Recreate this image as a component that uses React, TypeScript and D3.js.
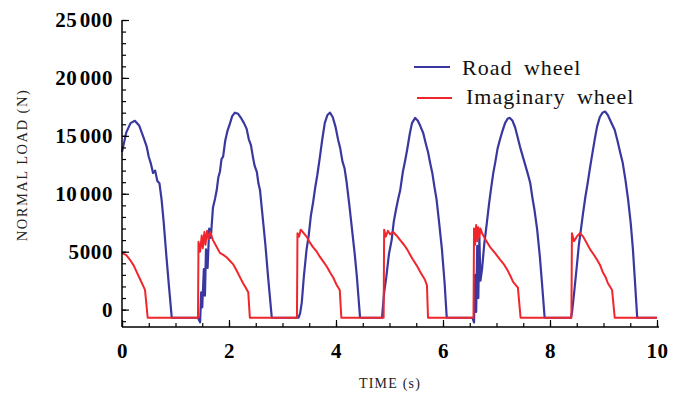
import { useEffect, useRef } from 'react';
import * as d3 from 'd3';

// road wheel normal load
const roadTime = [
  0, 0.08, 0.16, 0.24, 0.32, 0.4, 0.46, 0.5, 0.54, 0.58, 0.62, 0.66, 0.7, 0.74, 0.78, 0.83, 0.88, 0.93,
  1.42, 1.46, 1.48, 1.5, 1.53, 1.55, 1.57, 1.6, 1.63, 1.66, 1.7, 1.74, 1.77, 1.8, 1.83, 1.86, 1.89, 1.93,
  1.97, 2.02, 2.06, 2.11, 2.17, 2.23, 2.28, 2.33, 2.37, 2.41, 2.45, 2.48, 2.52, 2.55, 2.58, 2.61, 2.64,
  2.68, 2.73, 2.8,
  3.3, 3.33, 3.36, 3.4, 3.45, 3.49, 3.53, 3.57, 3.61, 3.65, 3.7, 3.74, 3.79, 3.84, 3.89, 3.94, 3.99, 4.04,
  4.08, 4.12, 4.16, 4.2, 4.25, 4.3, 4.35, 4.39, 4.45,
  4.86, 4.9, 4.94, 4.99, 5.04, 5.08, 5.12, 5.16, 5.2, 5.25, 5.29, 5.33, 5.38, 5.42, 5.48, 5.53, 5.58, 5.63,
  5.68, 5.72, 5.76, 5.8, 5.84, 5.88, 5.93, 5.98, 6.03, 6.07,
  6.55, 6.58, 6.6, 6.62, 6.64, 6.66, 6.68, 6.7, 6.73, 6.77, 6.82, 6.86, 6.9, 6.94, 6.98, 7.02, 7.06, 7.1,
  7.16, 7.21, 7.25, 7.3, 7.35, 7.4, 7.44, 7.48, 7.53, 7.58, 7.63, 7.67, 7.71, 7.76, 7.81, 7.85, 7.9,
  8.39, 8.41, 8.45, 8.5, 8.54, 8.58, 8.62, 8.66, 8.7, 8.75, 8.8, 8.84, 8.88, 8.93, 8.98, 9.03, 9.08, 9.14,
  9.21, 9.26, 9.31, 9.36, 9.41, 9.46, 9.51, 9.55, 9.59, 9.63, 10,
];
const roadLoad = [
  13600, 15300, 16100, 16300, 15900, 14900, 14100, 13200, 12600, 11800, 12000, 11100, 10900, 9500, 7500, 4600, 1900, -700,
  -700, -1100, 1500, 200, 3500, 1200, 5200, 3600, 7000, 6200, 8800, 9600, 10300, 11400, 11900, 13000, 13200, 14600,
  15400, 16100, 16700, 17000, 16900, 16500, 16100, 15600, 14700, 14200, 13100, 12400, 11900, 10900, 10300, 8900, 7500,
  5600, 2850, -700,
  -700, -300, 600, 2900, 5200, 6400, 8100, 9200, 10500, 11600, 13200, 14600, 16100, 16800, 17000, 16600, 15800, 14650,
  13900, 12800, 12200, 10950, 9000, 6900, 4800, 2850, -700,
  -700, 1500, 2800, 4800, 6000, 7600, 8600, 9500, 10300, 11900, 12800, 13800, 15200, 16100, 16550, 16300, 15800, 15250,
  14300, 13600, 12650, 11800, 10600, 9500, 7400, 5200, 2300, -700,
  -700, -1100, 3000, -200, 5500, 1000, 6200, 2500, 3500, 5600, 7500, 9100, 10500, 11800, 12800, 13900, 14600, 15250,
  16100, 16500, 16550, 16300, 15700, 14800, 14050, 13400, 12600, 11800, 10950, 9700, 8600, 6900, 4600, 2300, -700,
  -700, -300, 1400, 3700, 5600, 7000, 8400, 9700, 10800, 12300, 13700, 14800, 15800, 16600, 17000, 17100, 16800, 16200,
  15500, 14600, 13600, 12650, 11200, 9500, 7400, 5200, 2300, -700, -700,
];

// imaginary wheel normal load
const imagTime = [
  0, 0.08, 0.15, 0.22, 0.28, 0.34, 0.4, 0.43, 0.48,
  1.42, 1.43, 1.46, 1.49, 1.51, 1.54, 1.56, 1.59, 1.62, 1.65, 1.7, 1.76, 1.83, 1.9, 1.96, 2.02, 2.08, 2.14,
  2.2, 2.26, 2.3, 2.36, 2.39,
  3.27, 3.28, 3.31, 3.34, 3.38, 3.45, 3.51, 3.57, 3.64, 3.7, 3.77, 3.83, 3.89, 3.95, 4.01, 4.07, 4.1,
  4.89, 4.9, 4.93, 4.97, 5.01, 5.07, 5.13, 5.2, 5.27, 5.33, 5.39, 5.44, 5.51, 5.57, 5.62, 5.66, 5.7, 5.72,
  6.57, 6.58, 6.6, 6.62, 6.64, 6.66, 6.68, 6.7, 6.73, 6.8, 6.88, 6.97, 7.07, 7.14, 7.2, 7.26, 7.31, 7.4, 7.45,
  8.4, 8.41, 8.45, 8.5, 8.56, 8.62, 8.68, 8.75, 8.81, 8.88, 8.94, 8.99, 9.04, 9.08, 9.16, 9.21, 10,
];
const imagLoad = [
  4900, 4700, 4300, 3800, 3200, 2600, 2000, 1700, -700,
  -700, 5850, 5000, 6400, 5300, 6700, 5600, 6800, 6100, 6700, 6000, 5500, 4900, 4700, 4500, 4200, 3900, 3400,
  2850, 2300, 2000, 1500, -700,
  -700, 6600, 6300, 6900, 6700, 6300, 5800, 5400, 5000, 4550, 4100, 3700, 3200, 2750, 2150, 1700, -700,
  -700, 6900, 6300, 6800, 6500, 6700, 6400, 6000, 5600, 5200, 4700, 4300, 3800, 3300, 2900, 2600, 2100, -700,
  -700, 7000, 5600, 7300, 5900, 7100, 6200, 7000, 6600, 6000, 5400, 4900, 4300, 3900, 3450, 2900, 2400, 1900, -700,
  -700, 6600, 5900, 6300, 6600, 6300, 5800, 5200, 4800, 4300, 3800, 3200, 2800, 2300, 1700, -700, -700,
];

const xTicks = [0, 2, 4, 6, 8, 10];
const yTicks = [0, 5000, 10000, 15000, 20000, 25000];
const legendLabels = ['Road wheel', 'Imaginary wheel'];

const BLUE = '#3838a0';
const RED = '#f0262c';
const SERIF = '"Liberation Serif", "Times New Roman", serif';

export default function App() {
  const ref = useRef<SVGSVGElement | null>(null);

  useEffect(() => {
    if (!ref.current) return;
    const width = 683;
    const height = 394;
    const svg = d3.select(ref.current);
    svg.selectAll('*').remove();
    svg.attr('width', width).attr('height', height);

    const x = d3.scaleLinear().domain([0, 10]).range([122, 657]);
    const y = d3.scaleLinear().domain([-1500, 25000]).range([327, 20]);

    // 25000 -> "25 000" with a hair space, 5000 stays as is
    const fmt = (d: number) => {
      const s = String(d);
      return d >= 10000 ? s.slice(0, s.length - 3) + '\u200A' + s.slice(-3) : s;
    };

    const line = d3
      .line<[number, number]>()
      .x(d => x(d[0]))
      .y(d => y(d[1]));

    const road = roadTime.map((t, i) => [t, roadLoad[i]] as [number, number]);
    const imag = imagTime.map((t, i) => [t, imagLoad[i]] as [number, number]);

    svg
      .append('path')
      .datum(road)
      .attr('fill', 'none')
      .attr('stroke', BLUE)
      .attr('stroke-width', 2.2)
      .attr('stroke-linejoin', 'round')
      .attr('d', line);

    svg
      .append('path')
      .datum(imag)
      .attr('fill', 'none')
      .attr('stroke', RED)
      .attr('stroke-width', 2)
      .attr('stroke-linejoin', 'round')
      .attr('d', line);

    // y axis: minor ticks, major ticks, labels
    const yMinor = d3.range(-1000, 25001, 1000);
    svg
      .append('g')
      .attr('transform', `translate(${x(0)},0)`)
      .call(d3.axisRight(y).tickValues(yMinor).tickSize(4).tickFormat(() => '').tickSizeOuter(0))
      .call(g => g.select('.domain').remove())
      .attr('stroke-width', 1.2);
    svg
      .append('g')
      .attr('transform', `translate(${x(0)},0)`)
      .call(d3.axisRight(y).tickValues(yTicks).tickSize(7).tickFormat(() => '').tickSizeOuter(0))
      .call(g => g.select('.domain').remove())
      .attr('stroke-width', 1.2);
    svg
      .append('g')
      .attr('transform', `translate(${x(0)},0)`)
      .call(d3.axisLeft(y).tickValues(yTicks).tickSize(0).tickSizeOuter(0).tickFormat(d => fmt(d as number)).tickPadding(9))
      .call(g => g.selectAll('.tick line').remove())
      .call(g => g.select('.domain').attr('stroke-width', 1.5).attr('d', `M0,${y(-1500)}V${y(25000)}`))
      .call(g =>
        g
          .selectAll('.tick text')
          .attr('font-family', SERIF)
          .attr('font-weight', 'bold')
          .attr('font-size', 21)
          .attr('letter-spacing', 0.6)
          .attr('fill', '#000')
      );

    // x axis
    const xMinor = d3.range(0, 10.01, 0.5);
    svg
      .append('g')
      .attr('transform', `translate(0,${y(-1500)})`)
      .call(d3.axisTop(x).tickValues(xMinor).tickSize(4).tickFormat(() => '').tickSizeOuter(0))
      .call(g => g.select('.domain').remove())
      .attr('stroke-width', 1.2);
    svg
      .append('g')
      .attr('transform', `translate(0,${y(-1500)})`)
      .call(d3.axisTop(x).tickValues(xTicks).tickSize(7).tickFormat(() => '').tickSizeOuter(0))
      .call(g => g.select('.domain').attr('stroke-width', 1.5).attr('d', `M${x(0)},0H${x(10) + 2}`))
      .attr('stroke-width', 1.2);
    svg
      .append('g')
      .attr('transform', `translate(0,${y(-1500)})`)
      .call(d3.axisBottom(x).tickValues(xTicks).tickSize(0).tickPadding(16).tickFormat(d => String(d)))
      .call(g => g.select('.domain').remove())
      .call(g =>
        g
          .selectAll('.tick text')
          .attr('font-family', SERIF)
          .attr('font-weight', 'bold')
          .attr('font-size', 21)
          .attr('letter-spacing', 0.6)
          .attr('fill', '#000')
      );

    // axis titles
    svg
      .append('text')
      .attr('x', 390)
      .attr('y', 388)
      .attr('text-anchor', 'middle')
      .attr('font-family', SERIF)
      .attr('font-size', 14)
      .attr('letter-spacing', 1.2)
      .attr('fill', '#222')
      .text('TIME (s)');
    svg
      .append('text')
      .attr('transform', 'translate(27,165) rotate(-90)')
      .attr('text-anchor', 'middle')
      .attr('font-family', SERIF)
      .attr('font-size', 14.5)
      .attr('letter-spacing', 1.5)
      .attr('fill', '#222')
      .text('NORMAL LOAD (N)');

    // legend
    const legend = [
      { label: legendLabels[0], color: BLUE, x1: 414, x2: 450, ly: 67, tx: 462, ty: 75 },
      { label: legendLabels[1], color: RED, x1: 417, x2: 452, ly: 98, tx: 466, ty: 104 },
    ];
    legend.forEach(l => {
      svg
        .append('line')
        .attr('x1', l.x1)
        .attr('x2', l.x2)
        .attr('y1', l.ly)
        .attr('y2', l.ly)
        .attr('stroke', l.color)
        .attr('stroke-width', 2);
      svg
        .append('text')
        .attr('x', l.tx)
        .attr('y', l.ty)
        .attr('font-family', SERIF)
        .attr('font-size', 22)
        .attr('letter-spacing', 1)
        .attr('word-spacing', 5)
        .attr('fill', '#111')
        .text(l.label);
    });
  }, []);

  return (
    <div style={{ position: 'absolute', left: 0, top: 0 }}>
      <svg ref={ref} style={{ display: 'block', background: '#fff' }} />
    </div>
  );
}
